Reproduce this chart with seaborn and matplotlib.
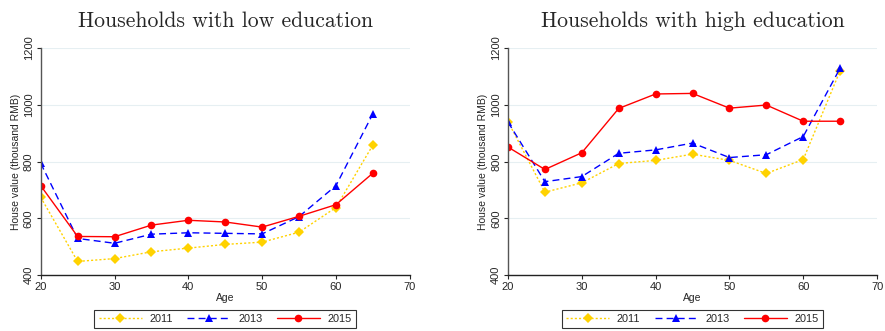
import pandas as pd
import matplotlib
matplotlib.use('Agg')
import matplotlib.pyplot as plt
import seaborn as sns

# idades (faixas)
idades = [20, 25, 30, 35, 40, 45, 50, 55, 60, 65]
anos = ['2011', '2013', '2015']

# valores (mil RMB) - baixa escolaridade
baixa_2011 = [674, 448, 458, 482, 495, 508, 516, 551, 638, 858]
baixa_2013 = [794, 529, 512, 544, 549, 547, 545, 606, 715, 968]
baixa_2015 = [715, 536, 535, 576, 593, 587, 569, 607, 648, 759]

# alta escolaridade
alta_2011 = [941, 692, 725, 793, 804, 826, 804, 758, 807, 1120]
alta_2013 = [939, 729, 747, 829, 841, 865, 814, 824, 888, 1129]
alta_2015 = [851, 772, 831, 987, 1038, 1040, 988, 999, 942, 942]

titulos = ['Households with low education', 'Households with high education']


def monta_tabela(s2011, s2013, s2015):
    linhas = []
    for ano, serie in zip(anos, [s2011, s2013, s2015]):
        for idade, valor in zip(idades, serie):
            linhas.append({'Age': idade, 'valor': valor, 'ano': ano})
    return pd.DataFrame(linhas)


tabelas = [monta_tabela(baixa_2011, baixa_2013, baixa_2015),
           monta_tabela(alta_2011, alta_2013, alta_2015)]

sns.set_style('white')
plt.rcParams['font.family'] = ['Liberation Sans', 'DejaVu Sans']

cores = {'2011': '#ffd200', '2013': '#0000ff', '2015': '#ff0000'}
tracos = {'2011': (1.5, 1.5), '2013': (5, 3), '2015': ''}
marcadores = {'2011': 'D', '2013': '^', '2015': 'o'}

fig = plt.figure(figsize=(8.85, 3.31), dpi=100)
posicoes = [[0.046, 0.169, 0.417, 0.686], [0.574, 0.169, 0.417, 0.686]]

for i in range(2):
    ax = fig.add_axes(posicoes[i])
    sns.lineplot(data=tabelas[i], x='Age', y='valor', hue='ano', style='ano',
                 palette=cores, dashes=tracos, markers=marcadores,
                 markersize=5.5, markeredgewidth=0, linewidth=1, ax=ax)
    ax.set_xlim(20, 70)
    ax.set_ylim(400, 1200)
    ax.set_xticks([20, 30, 40, 50, 60, 70])
    ax.set_yticks([400, 600, 800, 1000, 1200])
    ax.tick_params(axis='both', labelsize=8, length=3, direction='out',
                   left=True, bottom=True, pad=2)
    for t in ax.get_yticklabels():
        t.set_rotation(90)
        t.set_va('center')
    ax.yaxis.grid(True, color='#e6eff2', linewidth=0.8)
    ax.set_axisbelow(True)
    sns.despine(ax=ax)
    ax.spines['left'].set_color('#555555')
    ax.spines['bottom'].set_color('#222222')
    ax.spines['left'].set_linewidth(1)
    ax.spines['bottom'].set_linewidth(1)
    ax.set_xlabel('Age', fontsize=7.5, labelpad=1)
    ax.set_ylabel('House value (thousand RMB)', fontsize=7.5, labelpad=2)
    ax.set_title(titulos[i], fontsize=15.6, family='cmr10', pad=15)

    # legenda embaixo
    handles, labels = ax.get_legend_handles_labels()
    ax.legend(handles, labels, loc='upper center', bbox_to_anchor=(0.5, -0.152),
              borderaxespad=0, ncol=3, fontsize=7.8, frameon=True, fancybox=False,
              edgecolor='black', handlelength=4, columnspacing=1.3,
              borderpad=0.4, handletextpad=0.7)
    ax.get_legend().get_frame().set_linewidth(0.8)

fig.savefig('out.png', dpi=100)
print('pronto')
